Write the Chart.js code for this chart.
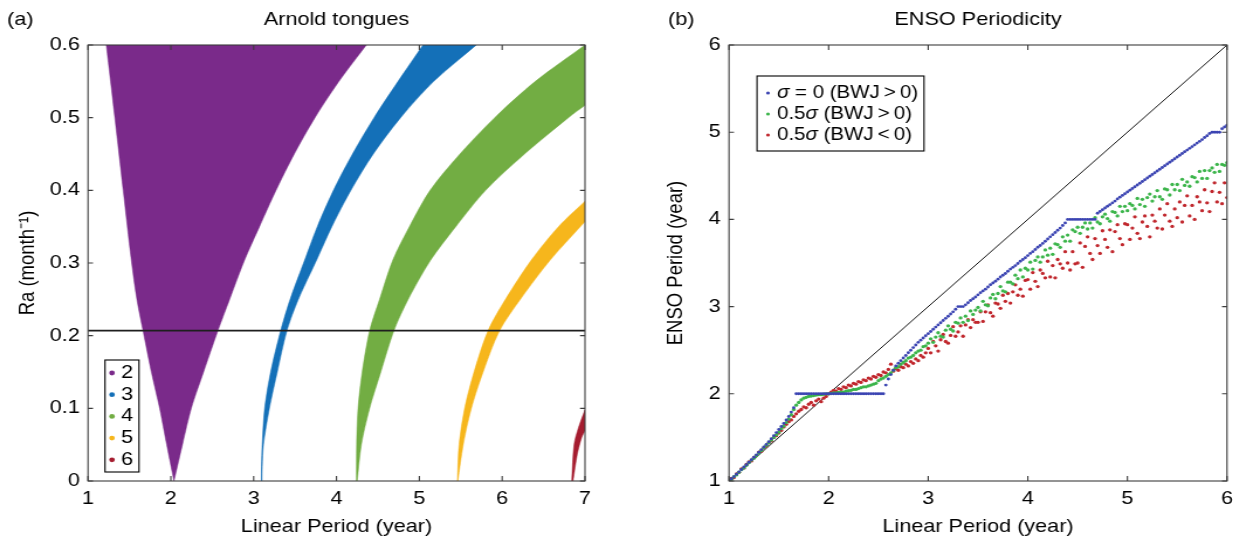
<!DOCTYPE html>
<html><head><meta charset="utf-8">
<script src="https://cdn.jsdelivr.net/npm/chart.js@4.4.1/dist/chart.umd.min.js"></script>
<style>
html,body{margin:0;padding:0;background:#fff;overflow:hidden;width:1233px;height:544px;}
.panel{position:absolute;top:0;height:544px;transform:scaleX(1.17);transform-origin:0 0;}
#pa{left:0;width:530px;}
#pb{left:620px;width:545px;}
</style></head><body>
<div class="panel" id="pa"><canvas id="ca" width="530" height="544"></canvas></div>
<div class="panel" id="pb"><canvas id="cb" width="545" height="544"></canvas></div>
<script>
// ---------- Panel (a): Arnold tongues ----------
const tongueLabels = ['2', '3', '4', '5', '6'];
const tongueColors = ['#7a2a8a', '#1470b8', '#72ad43', '#f6b61c', '#a51c2f'];
// each tongue: edge A (low-period side) and edge B (high-period side); Ra (month^-1) vs linear period (year)
const t2ARa = [0, 0.05, 0.1, 0.15, 0.207, 0.25, 0.304, 0.4, 0.5, 0.6];
const t2AX  = [2.038, 1.95, 1.865, 1.765, 1.664, 1.59, 1.523, 1.425, 1.324, 1.221];
const t2BRa = [0, 0.05, 0.1, 0.15, 0.207, 0.25, 0.304, 0.35, 0.4, 0.45, 0.5, 0.55, 0.6];
const t2BX  = [2.038, 2.14, 2.247, 2.395, 2.569, 2.71, 2.89, 3.07, 3.27, 3.49, 3.74, 4.03, 4.36];
const t3ARa = [0, 0.02, 0.05, 0.1, 0.15, 0.207, 0.25, 0.304, 0.35, 0.4, 0.45, 0.5, 0.55, 0.6];
const t3AX  = [3.093, 3.095, 3.103, 3.133, 3.205, 3.326, 3.44, 3.616, 3.768, 3.963, 4.193, 4.453, 4.743, 5.044];
const t3BRa = [0, 0.02, 0.05, 0.1, 0.15, 0.207, 0.25, 0.304, 0.35, 0.4, 0.45, 0.5, 0.55, 0.6];
const t3BX  = [3.10, 3.103, 3.118, 3.19, 3.285, 3.402, 3.54, 3.76, 3.944, 4.174, 4.444, 4.774, 5.174, 5.688];
const t4ARa = [0, 0.05, 0.1, 0.15, 0.207, 0.25, 0.304, 0.35, 0.4, 0.45, 0.5, 0.55, 0.6];
const t4AX  = [4.24, 4.243, 4.26, 4.31, 4.40, 4.52, 4.68, 4.88, 5.13, 5.49, 5.91, 6.40, 7.0];
const t4BRa = [0, 0.05, 0.1, 0.15, 0.207, 0.25, 0.304, 0.35, 0.4, 0.45, 0.5, 0.517];
const t4BX  = [4.25, 4.30, 4.40, 4.535, 4.694, 4.866, 5.137, 5.44, 5.80, 6.27, 6.80, 7.0];
const t5ARa = [0, 0.05, 0.1, 0.15, 0.207, 0.25, 0.304, 0.35, 0.385];
const t5AX  = [5.459, 5.48, 5.547, 5.66, 5.83, 6.04, 6.352, 6.68, 7.0];
const t5BRa = [0, 0.05, 0.1, 0.15, 0.207, 0.25, 0.304, 0.357];
const t5BX  = [5.465, 5.53, 5.628, 5.77, 5.97, 6.22, 6.58, 7.0];
const t6ARa = [0, 0.05, 0.073, 0.098];
const t6AX  = [6.84, 6.868, 6.92, 7.0];
const t6BRa = [0, 0.037, 0.06, 0.069];
const t6BX  = [6.855, 6.907, 6.96, 7.0];
const raObserved = 0.207;

// ---------- Panel (b): ENSO periodicity ----------
const linearPeriod = [
1,1.025,1.05,1.075,1.1,1.125,1.15,1.175,1.2,1.225,1.25,1.275,1.3,1.325,1.35,1.375,1.4,1.425,1.45,1.475,
1.5,1.525,1.55,1.575,1.6,1.625,1.65,1.675,1.7,1.725,1.75,1.775,1.8,1.825,1.85,1.875,1.9,1.925,1.95,1.975,
2,2.025,2.05,2.075,2.1,2.125,2.15,2.175,2.2,2.225,2.25,2.275,2.3,2.325,2.35,2.375,2.4,2.425,2.45,2.475,
2.5,2.525,2.55,2.575,2.6,2.625,2.65,2.675,2.7,2.725,2.75,2.775,2.8,2.825,2.85,2.875,2.9,2.925,2.95,2.975,
3,3.025,3.05,3.075,3.1,3.125,3.15,3.175,3.2,3.225,3.25,3.275,3.3,3.325,3.35,3.375,3.4,3.425,3.45,3.475,
3.5,3.525,3.55,3.575,3.6,3.625,3.65,3.675,3.7,3.725,3.75,3.775,3.8,3.825,3.85,3.875,3.9,3.925,3.95,3.975,
4,4.025,4.05,4.075,4.1,4.125,4.15,4.175,4.2,4.225,4.25,4.275,4.3,4.325,4.35,4.375,4.4,4.425,4.45,4.475,
4.5,4.525,4.55,4.575,4.6,4.625,4.65,4.675,4.7,4.725,4.75,4.775,4.8,4.825,4.85,4.875,4.9,4.925,4.95,4.975,
5,5.025,5.05,5.075,5.1,5.125,5.15,5.175,5.2,5.225,5.25,5.275,5.3,5.325,5.35,5.375,5.4,5.425,5.45,5.475,
5.5,5.525,5.55,5.575,5.6,5.625,5.65,5.675,5.7,5.725,5.75,5.775,5.8,5.825,5.85,5.875,5.9,5.925,5.95,5.975,
6];
const ensoSigma0 = [
1.00,1.025,1.05,1.078,1.105,1.132,1.16,1.187,1.215,1.243,1.272,1.30,1.33,1.36,1.39,1.42,1.45,1.485,1.52,1.555,
1.59,1.625,1.66,1.70,1.74,1.79,1.84,2,2,2,2,2,2,2,2,2,2,2,2,2,
2,2,2,2,2,2,2,2,2,2,2,2,2,2,2,2,2,2,2,2,
2,2,2,2.10,2.17,2.22,2.27,2.32,2.35,2.38,2.41,2.44,2.47,2.50,2.53,2.56,2.59,2.615,2.64,2.665,
2.69,2.715,2.74,2.765,2.79,2.815,2.84,2.865,2.89,2.915,2.94,2.97,3.0,3.0,3.0,3.02,3.045,3.07,3.09,3.11,
3.135,3.16,3.18,3.20,3.225,3.25,3.27,3.29,3.315,3.34,3.36,3.38,3.405,3.43,3.45,3.47,3.495,3.52,3.54,3.56,
3.585,3.61,3.63,3.655,3.68,3.70,3.725,3.75,3.775,3.80,3.825,3.85,3.875,3.90,3.93,3.96,4.0,4.0,4.0,4.0,
4.0,4.0,4.0,4.0,4.0,4.0,4.0,4.0,4.07,4.09,4.11,4.13,4.15,4.17,4.19,4.21,4.235,4.255,4.275,4.295,
4.315,4.335,4.355,4.375,4.395,4.415,4.435,4.455,4.475,4.495,4.515,4.535,4.555,4.575,4.595,4.615,4.635,4.655,4.675,4.695,
4.715,4.735,4.755,4.775,4.795,4.815,4.835,4.855,4.875,4.895,4.915,4.94,4.96,4.985,5.0,5.0,5.0,5.0,5.04,5.06,
5.08];
const ensoHalfSigmaPos = [
1.00,1.02,1.05,1.07,1.10,1.13,1.15,1.18,1.21,1.24,1.26,1.29,1.32,1.35,1.38,1.41,1.44,1.47,1.50,1.53,
1.56,1.60,1.63,1.67,1.71,1.76,1.82,1.87,1.90,1.93,1.95,1.96,1.97,1.975,1.98,1.985,1.99,1.99,1.995,2.00,
2.00,2.005,2.01,2.01,2.015,2.02,2.02,2.03,2.035,2.04,2.05,2.05,2.06,2.07,2.08,2.08,2.09,2.10,2.11,2.12,
2.15,2.17,2.18,2.20,2.22,2.24,2.27,2.30,2.31,2.34,2.36,2.38,2.41,2.42,2.44,2.47,2.49,2.50,2.54,2.55,
2.58,2.63,2.59,2.65,2.70,2.66,2.65,2.73,2.78,2.74,2.72,2.82,2.81,2.87,2.82,2.89,2.84,2.95,2.91,2.96,
2.99,2.95,3.06,3.02,3.01,3.10,3.14,3.09,3.15,3.23,3.18,3.17,3.28,3.28,3.26,3.36,3.32,3.42,3.34,3.44,
3.42,3.51,3.43,3.53,3.57,3.51,3.57,3.65,3.59,3.67,3.60,3.72,3.71,3.68,3.80,3.75,3.82,3.75,3.88,3.86,
3.91,3.84,3.91,3.96,3.89,3.96,3.90,4.02,3.97,3.95,4.03,4.06,4.01,3.98,4.09,4.08,4.04,4.15,4.09,4.15,
4.10,4.18,4.16,4.12,4.24,4.17,4.23,4.15,4.25,4.29,4.21,4.26,4.33,4.26,4.23,4.35,4.34,4.28,4.40,4.34,
4.40,4.33,4.46,4.39,4.43,4.38,4.49,4.48,4.43,4.55,4.47,4.56,4.47,4.56,4.59,4.54,4.63,4.55,4.63,4.62,
4.65];
const ensoHalfSigmaNeg = [
1.00,1.03,1.04,1.08,1.10,1.14,1.15,1.19,1.22,1.23,1.27,1.29,1.33,1.34,1.38,1.40,1.44,1.46,1.50,1.52,
1.55,1.58,1.62,1.65,1.68,1.70,1.74,1.77,1.80,1.82,1.85,1.84,1.88,1.90,1.87,1.92,1.94,1.91,1.95,1.97,
2.00,2.02,2.04,2.03,2.06,2.05,2.08,2.07,2.10,2.09,2.12,2.11,2.14,2.13,2.16,2.15,2.18,2.17,2.20,2.19,
2.22,2.21,2.25,2.24,2.28,2.34,2.26,2.29,2.27,2.31,2.30,2.34,2.32,2.37,2.35,2.40,2.38,2.44,2.42,2.47,
2.52,2.47,2.60,2.55,2.49,2.62,2.68,2.60,2.58,2.67,2.77,2.66,2.71,2.78,2.66,2.79,2.85,2.76,2.85,2.82,
2.82,2.94,2.83,2.94,3.02,2.93,2.89,3.04,3.03,2.98,3.13,3.06,3.15,3.04,3.17,3.25,3.13,3.20,3.12,3.30,
3.31,3.20,3.39,3.29,3.23,3.42,3.38,3.33,3.52,3.34,3.47,3.33,3.54,3.49,3.44,3.63,3.50,3.42,3.63,3.49,
3.50,3.73,3.45,3.69,3.80,3.61,3.54,3.78,3.70,3.61,3.87,3.77,3.68,3.88,3.63,3.86,3.94,3.78,3.71,3.95,
3.94,3.77,3.90,4.03,3.84,3.78,3.97,4.04,3.92,3.80,4.05,3.98,3.90,4.12,3.89,4.05,4.18,3.98,3.92,4.12,
4.02,4.20,3.97,4.16,4.27,4.04,4.16,4.00,4.26,4.20,4.10,4.34,4.19,4.09,4.32,4.42,4.20,4.31,4.18,4.42,
4.25];
const ensoLabels = ['σ = 0 (BWJ\u2009>\u20090)', '0.5σ (BWJ\u2009>\u20090)', '0.5σ (BWJ\u2009<\u20090)'];
const ensoColors = ['#3b44b2', '#3cb54b', '#c0272d'];
const diagX = [1, 6];
const diagY = [1, 6];

// ---------- helpers ----------
const SX = 1.17; // horizontal stretch of the panels (matches the reference's aspect)
const FONT = "'Liberation Sans', Arial, Helvetica, sans-serif";
const FS = 18.5;
Chart.defaults.font.family = FONT;
Chart.defaults.color = '#000';

function tonguePolygon(aRa, aX, bRa, bX) {
  const pts = aX.map((x, i) => ({x, y: aRa[i]}));
  const n = aX.length - 1, m = bX.length - 1;
  pts.push({x: aX[n], y: aRa[n]});          // sharp corner where the edges meet
  pts.push({x: bX[m], y: bRa[m]});
  for (let i = m; i >= 0; i--) pts.push({x: bX[i], y: bRa[i]});
  return pts;
}
const pairs = (xs, ys) => xs.map((x, i) => ({x, y: ys[i]}));

const framePlugin = {
  id: 'frame',
  afterDatasetsDraw(chart) {
    const {ctx, chartArea: a, scales: {x, y}} = chart;
    ctx.save();
    ctx.strokeStyle = '#3c3c3c';
    ctx.lineWidth = 1.1;
    ctx.strokeRect(a.left, a.top, a.right - a.left, a.bottom - a.top);
    ctx.beginPath();
    const L = 5, LH = 5 / SX;
    x.ticks.forEach(t => {
      const p = x.getPixelForValue(t.value);
      ctx.moveTo(p, a.bottom); ctx.lineTo(p, a.bottom - L);
      ctx.moveTo(p, a.top); ctx.lineTo(p, a.top + L);
    });
    y.ticks.forEach(t => {
      const p = y.getPixelForValue(t.value);
      ctx.moveTo(a.left, p); ctx.lineTo(a.left + LH, p);
      ctx.moveTo(a.right, p); ctx.lineTo(a.right - LH, p);
    });
    ctx.stroke();
    ctx.restore();
  }
};
const panelLabelPlugin = {
  id: 'panelLabel',
  afterDraw(chart, args, o) {
    const ctx = chart.ctx;
    ctx.save();
    ctx.font = o.size + 'px ' + FONT;
    ctx.fillStyle = '#000';
    ctx.textBaseline = 'middle';
    ctx.textAlign = 'left';
    ctx.fillText(o.text, o.x, o.y);
    ctx.restore();
  }
};
const boxLegendPlugin = {
  id: 'boxLegend',
  afterDraw(chart, args, o) {
    const ctx = chart.ctx;
    const items = chart.data.datasets.filter(d => d.inLegend);
    ctx.save();
    ctx.fillStyle = '#fff';
    ctx.fillRect(o.box[0], o.box[1], o.box[2], o.box[3]);
    ctx.strokeStyle = '#000';
    ctx.lineWidth = 1.1;
    ctx.strokeRect(o.box[0], o.box[1], o.box[2], o.box[3]);
    ctx.textBaseline = 'middle';
    items.forEach((d, i) => {
      const yy = o.row0 + i * o.rowGap;
      ctx.fillStyle = d.legendColor;
      ctx.beginPath();
      ctx.arc(o.markerX, yy, o.markerR, 0, Math.PI * 2);
      ctx.fill();
      ctx.fillStyle = '#000';
      let xx = o.textX;
      d.label.split(/(σ)/).forEach(p => {
        if (!p) return;
        ctx.font = (p === 'σ' ? 'italic ' : '') + o.size + 'px ' + FONT;
        ctx.fillText(p, xx, yy);
        xx += ctx.measureText(p).width;
      });
    });
    ctx.restore();
  }
};

const axisCommon = (min, max, step, title, titlePad, sizeFit, isX) => ({
  type: 'linear', min, max,
  ticks: {stepSize: step, padding: 7, font: {size: FS}, color: '#000'},
  grid: {display: false, drawTicks: false},
  border: {display: false},
  title: {display: true, text: title, font: {size: FS}, color: '#000', padding: titlePad},
  afterFit(s) { if (isX) s.height = sizeFit; else s.width = sizeFit; }
});
const titleOpts = text => ({
  display: true, text, color: '#000', fullSize: false,
  font: {size: FS, weight: 'normal'}, padding: {top: 9, bottom: 13.8}
});

// ---------- chart (a) ----------
const tongueSets = [
  [t2ARa, t2AX, t2BRa, t2BX],
  [t3ARa, t3AX, t3BRa, t3BX],
  [t4ARa, t4AX, t4BRa, t4BX],
  [t5ARa, t5AX, t5BRa, t5BX],
  [t6ARa, t6AX, t6BRa, t6BX]
].map((t, i) => ({
  label: tongueLabels[i],
  inLegend: true,
  legendColor: tongueColors[i],
  data: tonguePolygon(t[0], t[1], t[2], t[3]),
  backgroundColor: tongueColors[i],
  borderColor: tongueColors[i],
  borderWidth: 0.5,
  fill: 'shape',
  tension: 0.3,
  pointRadius: 0,
  order: 2
}));
const raLine = {
  label: 'Ra',
  data: [{x: 1, y: raObserved}, {x: 7, y: raObserved}],
  borderColor: '#1e1e1e', borderWidth: 1.6, pointRadius: 0, fill: false, order: 1
};

new Chart(document.getElementById('ca'), {
  type: 'line',
  data: {datasets: [...tongueSets, raLine]},
  options: {
    responsive: false, animation: false,
    layout: {padding: {left: 0, right: 530 - 585 / SX, top: 0, bottom: 0}},
    plugins: {
      legend: {display: false}, tooltip: {enabled: false},
      title: titleOpts('Arnold tongues'),
      panelLabel: {text: '(a)', x: 7 / SX, y: 20, size: FS},
      boxLegend: {box: [105 / SX, 360, 34 / SX, 112], row0: 373, rowGap: 21.7, markerX: 112 / SX, markerR: 2.4, textX: 121 / SX, size: FS}
    },
    scales: {
      x: axisCommon(1, 7, 1, 'Linear Period (year)', {top: 0, bottom: 5.5}, 63, true),
      y: axisCommon(0, 0.6, 0.1, 'Ra (month⁻¹)', {top: 28 / SX - FS * 0.6, bottom: 0}, 88 / SX, false)
    }
  },
  plugins: [framePlugin, panelLabelPlugin, boxLegendPlugin]
});

// ---------- chart (b) ----------
const ensoSeries = [ensoSigma0, ensoHalfSigmaPos, ensoHalfSigmaNeg];
const ensoRadius = [1.45, 1.65, 1.65];
const ensoSets = ensoSeries.map((s, i) => ({
  type: 'scatter',
  label: ensoLabels[i],
  inLegend: true,
  legendColor: ensoColors[i],
  data: pairs(linearPeriod, s),
  backgroundColor: ensoColors[i],
  borderWidth: 0,
  pointRadius: ensoRadius[i],
  showLine: false
}));
const diagSet = {
  type: 'line', label: 'diag', data: pairs(diagX, diagY),
  borderColor: '#111', borderWidth: 1, pointRadius: 0, fill: false
};

new Chart(document.getElementById('cb'), {
  type: 'scatter',
  data: {datasets: [...ensoSets, diagSet]},
  options: {
    responsive: false, animation: false,
    layout: {padding: {left: 0, right: 545 - 607 / SX, top: 0, bottom: 0}},
    plugins: {
      legend: {display: false}, tooltip: {enabled: false},
      title: titleOpts('ENSO Periodicity'),
      panelLabel: {text: '(b)', x: 48 / SX, y: 20, size: FS},
      boxLegend: {box: [137 / SX, 76, 167 / SX, 75], row0: 93, rowGap: 21, markerX: 148 / SX, markerR: 1.6, textX: 157 / SX, size: 17.5}
    },
    scales: {
      x: axisCommon(1, 6, 1, 'Linear Period (year)', {top: 0, bottom: 5.5}, 63, true),
      y: axisCommon(1, 6, 1, 'ENSO Period (year)', {top: 55.6 / SX - FS * 0.6, bottom: 0}, 109 / SX, false)
    }
  },
  plugins: [framePlugin, panelLabelPlugin, boxLegendPlugin]
});
</script>
</body></html>
